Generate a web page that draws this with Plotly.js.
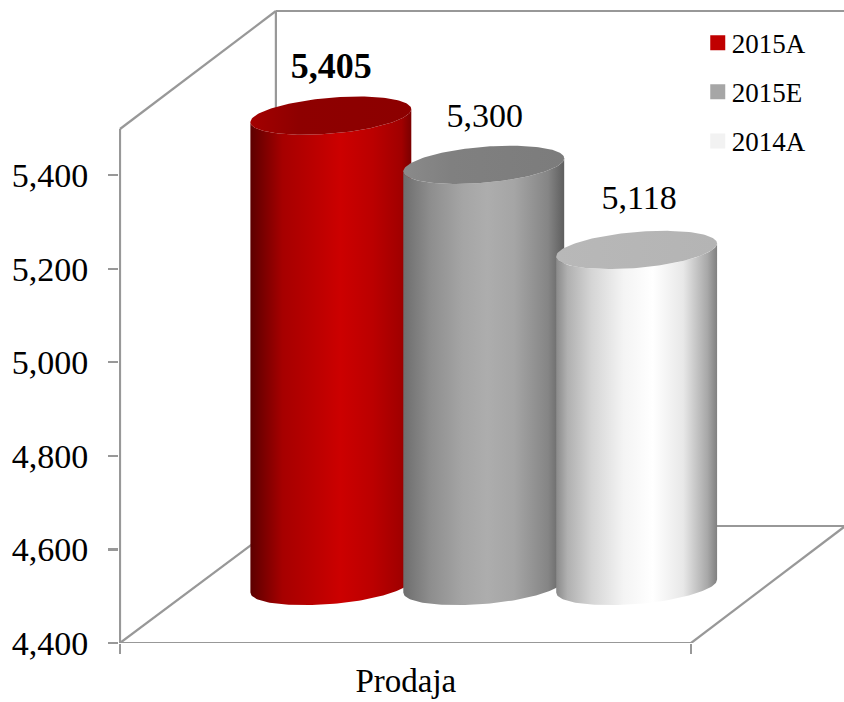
<!DOCTYPE html>
<html>
<head>
<meta charset="utf-8">
<script src="https://cdn.plot.ly/plotly-3.0.1.min.js"></script>
<style>html,body{margin:0;padding:0;background:#fff}#chart{width:844px;height:702px}</style>
</head>
<body>
<div id="chart"></div>
<script>
// ---- data ----
const category = 'Prodaja';
const seriesNames = ['2015A', '2015E', '2014A'];
const seriesValues = [5405, 5300, 5118];
const seriesLabels = ['5,405', '5,300', '5,118'];
const tickValues = [4400, 4600, 4800, 5000, 5200, 5400];
const tickLabels = ['4,400', '4,600', '4,800', '5,000', '5,200', '5,400'];

// ---- style ----
const legendColors = ['#c00000', '#a6a6a6', '#f2f2f2'];
const topColors = [
  [[0, '#a30000'], [0.3, '#8e0000'], [1, '#8c0000']],
  [[0, '#8a8a8a'], [0.3, '#808080'], [1, '#7c7c7c']],
  [[0, '#b8b8b8'], [1, '#b4b4b4']]
];
const bodyColors = [
  [[0, '#5c0000'], [0.2, '#a60000'], [0.45, '#c00000'], [0.56, '#cc0000'], [0.76, '#bb0000'], [0.94, '#a00000'], [1, '#7a0000']],
  [[0, '#6e6e6e'], [0.17, '#8e8e8e'], [0.37, '#a5a5a5'], [0.52, '#adadad'], [0.69, '#a5a5a5'], [0.9, '#858585'], [1, '#5e5e5e']],
  [[0, '#8a8a8a'], [0.07, '#b0b0b0'], [0.22, '#d5d5d5'], [0.42, '#f4f4f4'], [0.6, '#ffffff'], [0.79, '#e8e8e8'], [0.94, '#a8a8a8'], [1, '#808080']]
];
const serifFont = '"Liberation Serif", serif';
const wallColor = '#989898';

// ---- geometry of the pseudo-3D scene ----
const W = 844, H = 702, floorPx = 643, pxPerUnit = 0.468, leftPx = 118.5;
const yMin = 4400, yMax = yMin + floorPx / pxPerUnit;
const toY = px => yMin + (floorPx - px) * 1 / pxPerUnit;   // page-row -> value
const depthUnits = 57 / pxPerUnit;                          // cylinders stand behind the front edge
const tiltUnits = 6.5 / pxPerUnit, minorUnits = 18 / pxPerUnit;
const firstCenter = 330.5, step = 153, radius = 80.5;
const labelLift = [47, 46, 49].map(p => p / pxPerUnit);
const labelShift = [0.5, 1, 2.5];

function arc(cx, cy, t0, t1, n) {
  const xs = [], ys = [];
  for (let i = 0; i <= n; i++) {
    const t = t0 + (t1 - t0) * i / n;
    xs.push(cx + radius * Math.cos(t));
    ys.push(cy + tiltUnits * Math.cos(t) + minorUnits * Math.sin(t));
  }
  return [xs, ys];
}

const traces = [];
seriesValues.forEach((v, i) => {
  const cx = firstCenter + i * step;
  const topY = v + depthUnits, baseY = yMin + depthUnits;
  const [bx, by] = arc(cx, baseY, 0, -Math.PI, 80);   // lower arc (right -> left)
  const [tx, ty] = arc(cx, topY, Math.PI, 2 * Math.PI, 80);
  traces.push({
    x: bx.concat(tx, [bx[0]]), y: by.concat(ty, [by[0]]),
    mode: 'lines', line: {width: 0}, fill: 'toself',
    fillgradient: {type: 'horizontal', colorscale: bodyColors[i]},
    hoverinfo: 'skip', showlegend: false
  });
  const [ex, ey] = arc(cx, topY, 0, 2 * Math.PI, 160);
  traces.push({
    x: ex, y: ey,
    mode: 'lines', line: {width: 0}, fill: 'toself',
    fillgradient: {type: 'horizontal', colorscale: topColors[i]},
    hoverinfo: 'skip', showlegend: false
  });
});
seriesValues.forEach((v, i) => {
  traces.push({
    x: [firstCenter + i * step + labelShift[i]], y: [v + depthUnits + labelLift[i]],
    mode: 'text', text: [seriesLabels[i]], textposition: 'middle center',
    textfont: {family: serifFont, size: i === 0 ? 36 : 34, color: '#000',
               weight: i === 0 ? 700 : 400},
    hoverinfo: 'skip', showlegend: false, cliponaxis: false
  });
});
seriesNames.forEach((n, i) => {
  traces.push({
    x: [null], y: [null], name: n, mode: 'markers', legendgroup: n,
    marker: {symbol: 'square', size: 15, color: legendColors[i]}
  });
});

const seg = (x0, p0, x1, p1) => ({
  type: 'line', xref: 'x', yref: 'y', x0: x0, x1: x1, y0: toY(p0), y1: toY(p1),
  layer: 'below', line: {color: wallColor, width: 2.2}
});

const layout = {
  width: W, height: H,
  margin: {l: leftPx, r: 0, t: 0, b: H - floorPx, pad: 0},
  paper_bgcolor: '#fff', plot_bgcolor: '#fff',
  font: {family: serifFont, color: '#000'},
  xaxis: {
    range: [leftPx, W], fixedrange: true, showgrid: false, zeroline: false, showline: false,
    tickmode: 'array', tickvals: [405.5], ticktext: [category], ticks: '', ticklen: 0,
    ticklabelstandoff: 15, tickfont: {family: serifFont, size: 33, color: '#000'},
    minor: {tickmode: 'array', tickvals: [119.5, 691], ticks: 'outside', ticklen: 10,
            tickwidth: 2.2, tickcolor: wallColor, showgrid: false}
  },
  yaxis: {
    range: [yMin, yMax], fixedrange: true, showgrid: false, zeroline: false, showline: false,
    tickmode: 'array', tickvals: tickValues, ticktext: tickLabels,
    ticks: 'outside', ticklen: 10, tickwidth: 2.2, tickcolor: wallColor,
    ticklabelstandoff: 13, tickfont: {family: serifFont, size: 34, color: '#000'}
  },
  showlegend: true,
  legend: {
    x: 0.79, y: 0.971, xanchor: 'left', yanchor: 'top', bgcolor: 'rgba(0,0,0,0)',
    font: {family: serifFont, size: 27, color: '#000'},
    traceorder: 'grouped', tracegroupgap: 11, itemwidth: 30
  },
  shapes: [
    seg(119.5, 129, 119.5, 643),
    seg(119.5, 643, 691, 643),
    seg(119.5, 643, 276, 526),
    seg(119.5, 129, 275.5, 11),
    seg(275.5, 11, 275.5, 526),
    seg(275.5, 11, 844, 11),
    seg(276, 526, 844, 526),
    seg(691, 643, 844, 527)
  ]
};

Plotly.newPlot('chart', traces, layout, {displayModeBar: false, staticPlot: true}).then(gd => {
  // the reference keeps the swatch closer to its text than the legend's default gap
  gd.querySelectorAll('.legend .legendsymbols').forEach(g => g.setAttribute('transform', 'translate(6,0)'));
});
</script>
</body>
</html>
